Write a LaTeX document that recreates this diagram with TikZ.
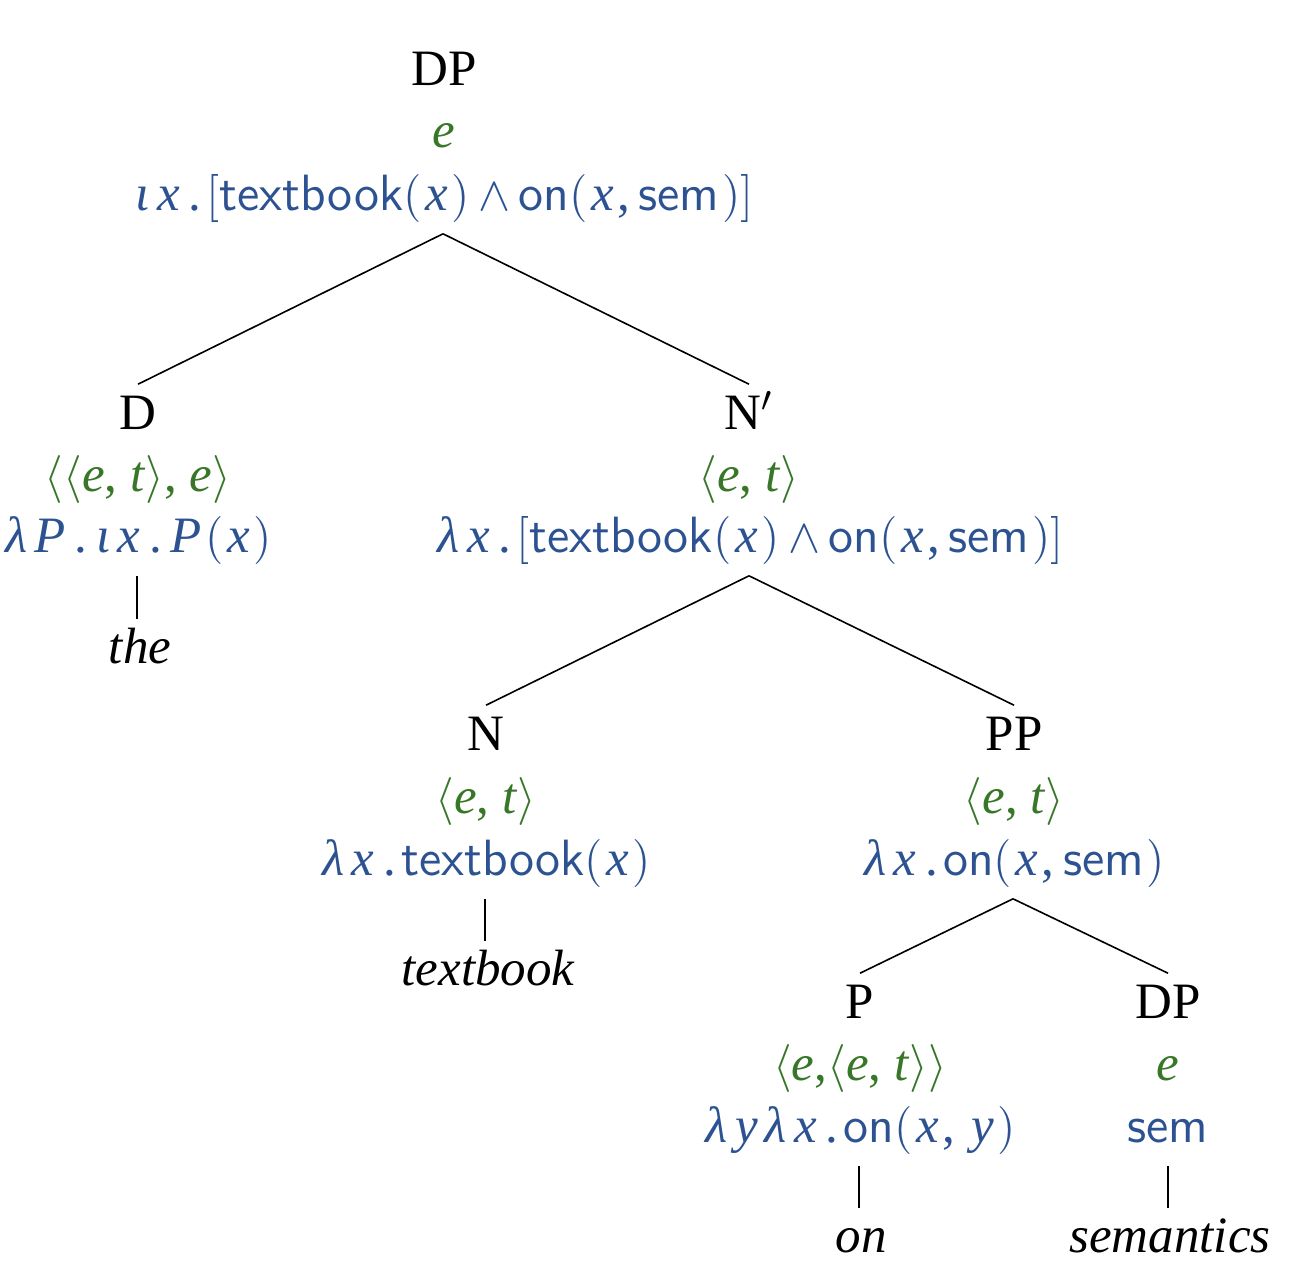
\documentclass[tikz,border=0pt]{standalone}
\usepackage[no-math]{fontspec}
\setmainfont{Liberation Serif}
\definecolor{tgreen}{RGB}{56,118,40}
\definecolor{fblue}{RGB}{44,82,146}
\newcommand{\vi}[1]{\textit{#1}}
\newcommand{\m}[1]{\kern0.9pt\textit{#1}\kern0.9pt}
\newcommand{\dt}{\kern1.3pt.\kern1.3pt}
\newcommand{\sv}[1]{\textsf{#1}}
\newcommand{\lp}{$($}
\newcommand{\rp}{$)$}
\newcommand{\la}{$\langle$}
\newcommand{\ra}{$\rangle$}
\begin{document}
\begin{tikzpicture}[x=0.25pt,y=-0.25pt,
  every node/.style={inner sep=0pt, anchor=base, font=\fontsize{12.75}{15}\selectfont},
  cat/.style={text height=11pt},
  typ/.style={text=tgreen},
  sem/.style={text=fblue, text depth=5.75pt},
  leaf/.style={text height=10.75pt, font=\fontsize{12.75}{15}\selectfont\itshape},
  edge/.style={line width=0.4pt}]
\useasboundingbox (0,0) rectangle (1312,1284);
% root
\node[cat] (dp) at (444,86) {DP};
\node[typ] (dpt) at (444,148) {\vi{e}};
\node[sem] (dpf) at (443,210) {\m{ι}\m{x}\dt$[$\sv{textbook}\lp\m{x}\rp\,$\wedge$\,\sv{on}\lp\m{x},\,\sv{sem}\kern0.8pt\rp$]$};
% D
\node[cat] (d) at (138,429) {D};
\node[typ] (dt) at (138,491) {\la\la\vi{e}, \vi{t}\ra, \vi{e}\ra};
\node[sem] (df) at (137,552) {\m{λ}\m{P}\dt\m{ι}\m{x}\dt\m{P}\lp\m{x}\rp};
\node[leaf] (the) at (140,663) {the};
% N'
\node[cat] (nb) at (749,429) {N$'$};
\node[typ] (nbt) at (749,491) {\la\vi{e}, \vi{t}\ra};
\node[sem] (nbf) at (749,552) {\m{λ}\m{x}\dt$[$\sv{textbook}\lp\m{x}\rp\,$\wedge$\,\sv{on}\lp\m{x},\,\sv{sem}\kern0.8pt\rp$]$};
% N
\node[cat] (n) at (486,750) {N};
\node[typ] (nt) at (486,813) {\la\vi{e}, \vi{t}\ra};
\node[sem] (nf) at (485,875) {\m{λ}\m{x}\dt\sv{textbook}\lp\m{x}\rp};
\node[leaf] (textbook) at (488,985) {textbook};
% PP
\node[cat] (pp) at (1014,750) {PP};
\node[typ] (ppt) at (1014,813) {\la\vi{e}, \vi{t}\ra};
\node[sem] (ppf) at (1013,875) {\m{λ}\m{x}\dt\sv{on}\lp\m{x},\,\sv{sem}\kern0.8pt\rp};
% P
\node[cat] (p) at (860,1018) {P};
\node[typ] (pt) at (860,1080) {\la\vi{e},\la\vi{e}, \vi{t}\ra\ra};
\node[sem] (pf) at (859,1142) {\m{λ}\m{y}\m{λ}\m{x}\dt\sv{on}\lp\m{x}, \m{y}\rp};
\node[leaf] (on) at (861,1252) {on};
% DP (lower)
\node[cat] (dp2) at (1168,1018) {DP};
\node[typ] (dp2t) at (1168,1080) {\vi{e}};
\node[sem] (dp2f) at (1168,1142) {\sv{sem}};
\node[leaf] (semantics) at (1170,1252) {semantics};
% edges
\draw[edge] (dpf.south) -- (d.north);
\draw[edge] (dpf.south) -- (nb.north);
\draw[edge] (df.south) -- (df.south |- the.north);
\draw[edge] (nbf.south) -- (n.north);
\draw[edge] (nbf.south) -- (pp.north);
\draw[edge] (nf.south) -- (nf.south |- textbook.north);
\draw[edge] (ppf.south) -- (p.north);
\draw[edge] (ppf.south) -- (dp2.north);
\draw[edge] (pf.south) -- (pf.south |- on.north);
\draw[edge] (dp2f.south) -- (dp2f.south |- semantics.north);
\end{tikzpicture}
\end{document}
